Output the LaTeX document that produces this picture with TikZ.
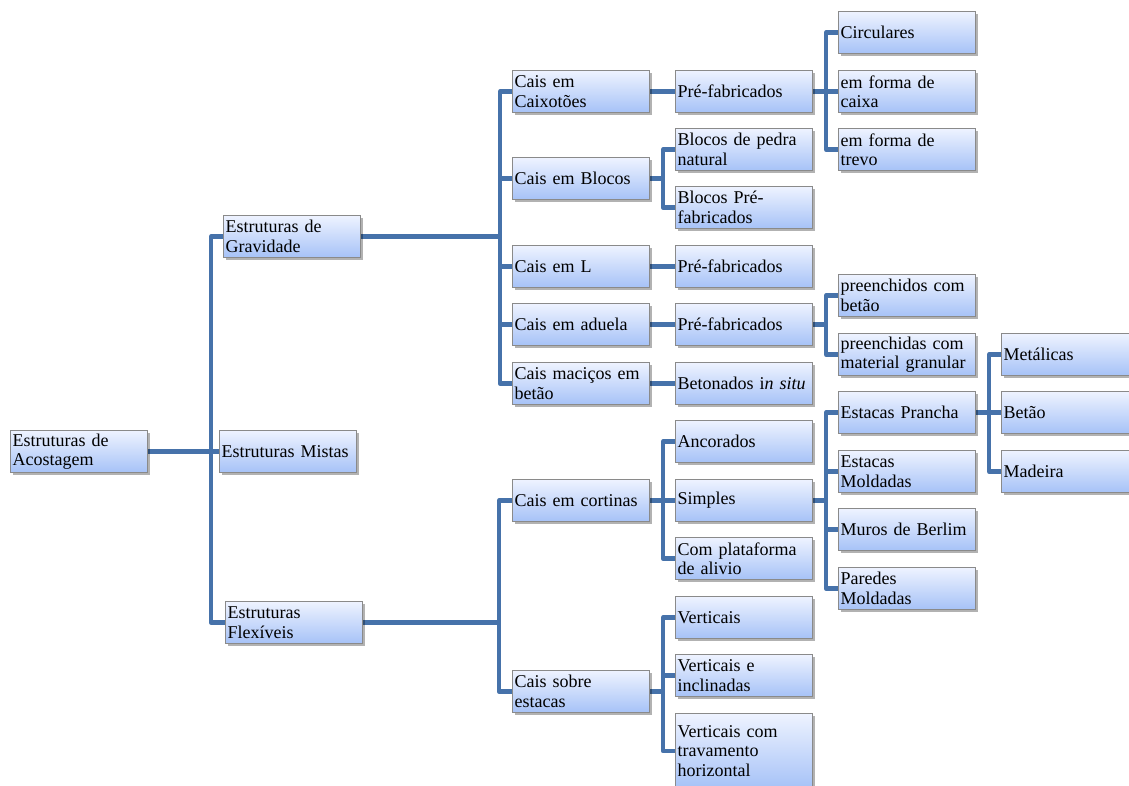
\documentclass[tikz,border=0pt]{standalone}
\usepackage{fontspec}
\setmainfont{Liberation Serif}
\usetikzlibrary{shadows,backgrounds}
\definecolor{conncol}{HTML}{4672AA}
\definecolor{boxtop}{HTML}{EEF3FF}
\definecolor{boxbot}{HTML}{A6C2F7}
\definecolor{boxline}{HTML}{8A8A8A}
\tikzset{
  box/.style={draw=boxline, line width=1.1pt, top color=boxtop, bottom color=boxbot,
    anchor=north west, inner xsep=2pt, inner ysep=0pt, text width=133pt,
    minimum height=42pt, align=left, font=\fontsize{18}{19.5}\selectfont,
    drop shadow={shadow xshift=2.5pt, shadow yshift=-2.5pt, fill=black, opacity=0.3}},
  conn/.style={draw=conncol, line width=4.5pt, line join=round}
}
\begin{document}
\begin{tikzpicture}[x=1pt,y=-1pt]
\useasboundingbox (0,0) rectangle (1129,785);
% level 0
\node[box] (root) at (10,430) {Estruturas de\\Acostagem};
% level 1
\node[box] (grav) at (223,215) {Estruturas de\\Gravidade};
\node[box] (mist) at (219,430) {Estruturas Mistas};
\node[box] (flex) at (225,601) {Estruturas\\Flexíveis};
% level 2
\node[box] (caix) at (512,70) {Cais em\\Caixotões};
\node[box] (bloc) at (512,157) {Cais em Blocos};
\node[box] (cl) at (512,245) {Cais em L};
\node[box] (adu) at (512,303) {Cais em aduela};
\node[box] (mac) at (512,362) {Cais maciços em\\betão};
\node[box] (cort) at (512,479) {Cais em cortinas};
\node[box] (est) at (512,670) {Cais sobre\\estacas};
% level 3
\node[box] (pf1) at (675,70) {Pré-fabricados};
\node[box] (bpn) at (675,128) {Blocos de pedra\\natural};
\node[box] (bpf) at (675,186) {Blocos Pré-\\fabricados};
\node[box] (pf2) at (675,245) {Pré-fabricados};
\node[box] (pf3) at (675,303) {Pré-fabricados};
\node[box] (bet) at (675,362) {Betonados i\textit{n situ}};
\node[box] (anc) at (675,420) {Ancorados};
\node[box] (simp) at (675,479) {Simples};
\node[box] (plat) at (675,537) {Com plataforma\\de alivio};
\node[box] (vert) at (675,596) {Verticais};
\node[box] (vinc) at (675,654) {Verticais e\\inclinadas};
\node[box, minimum height=75pt] (vtra) at (675,713) {Verticais com\\travamento\\horizontal};
% level 4
\node[box] (circ) at (838,11) {Circulares};
\node[box] (fcai) at (838,70) {em forma de\\caixa};
\node[box] (ftre) at (838,128) {em forma de\\trevo};
\node[box] (pbet) at (838,274) {preenchidos com\\betão};
\node[box] (pgra) at (838,333) {preenchidas com\\material granular};
\node[box] (epr) at (838,391) {Estacas Prancha};
\node[box] (emo) at (838,450) {Estacas\\Moldadas};
\node[box] (mber) at (838,508) {Muros de Berlim};
\node[box] (pmo) at (838,567) {Paredes\\Moldadas};
% level 5
\node[box] (met) at (1001,333) {Metálicas};
\node[box] (btao) at (1001,391) {Betão};
\node[box] (mad) at (1001,450) {Madeira};
\begin{scope}[on background layer]
\fill[white] (0,0) rectangle (1129,785);
\foreach \c in {grav,mist,flex} \draw[conn] (root.east) -- ++(63,0) |- (\c.west);
\foreach \c in {caix,bloc,cl,adu,mac} \draw[conn] (grav.east) -- ++(139,0) |- (\c.west);
\foreach \c in {cort,est} \draw[conn] (flex.east) -- ++(136,0) |- (\c.west);
\draw[conn] (caix.east) -- (pf1.west);
\draw[conn] (cl.east) -- (pf2.west);
\draw[conn] (adu.east) -- (pf3.west);
\draw[conn] (mac.east) -- (bet.west);
\foreach \c in {bpn,bpf} \draw[conn] (bloc.east) -- ++(13,0) |- (\c.west);
\foreach \c in {anc,simp,plat} \draw[conn] (cort.east) -- ++(13,0) |- (\c.west);
\foreach \c in {vert,vinc,vtra} \draw[conn] (est.east) -- ++(13,0) |- (\c.west);
\foreach \c in {circ,fcai,ftre} \draw[conn] (pf1.east) -- ++(13,0) |- (\c.west);
\foreach \c in {pbet,pgra} \draw[conn] (pf3.east) -- ++(13,0) |- (\c.west);
\foreach \c in {epr,emo,mber,pmo} \draw[conn] (simp.east) -- ++(13,0) |- (\c.west);
\foreach \c in {met,btao,mad} \draw[conn] (epr.east) -- ++(13,0) |- (\c.west);
\end{scope}
\end{tikzpicture}
\end{document}
